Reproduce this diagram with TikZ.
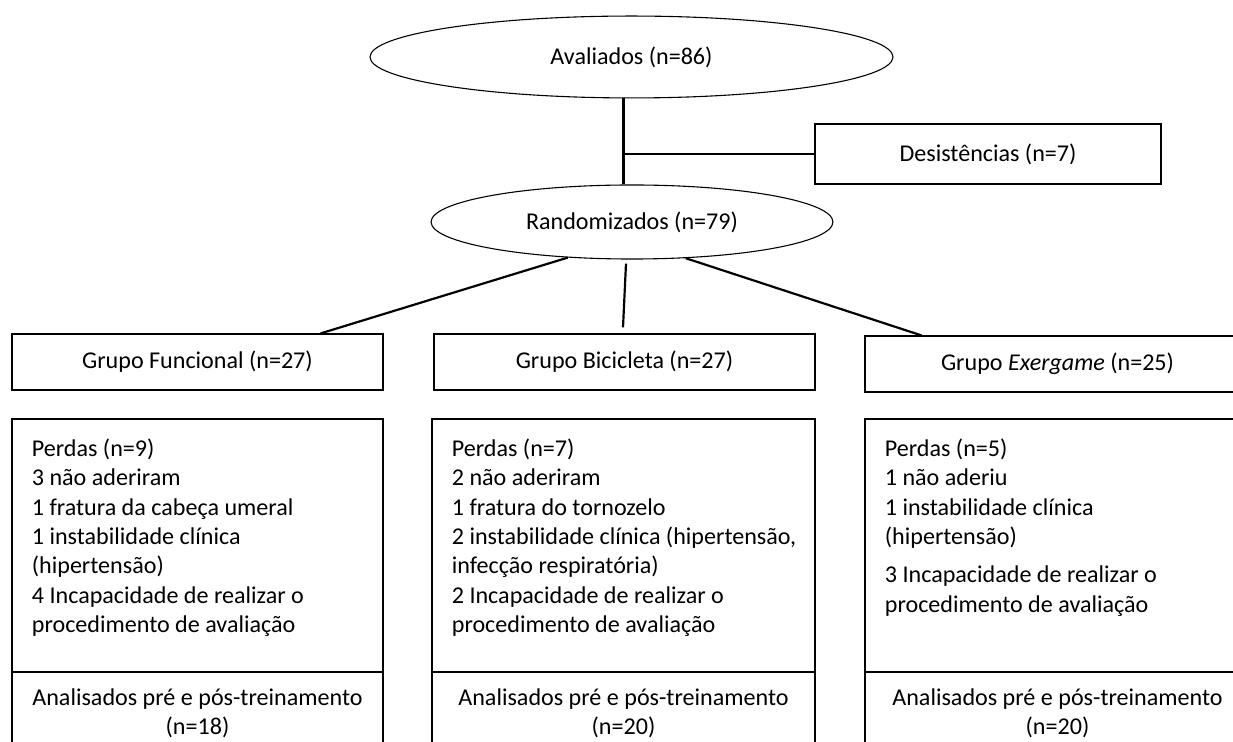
\documentclass[tikz,border=0pt]{standalone}
\usepackage{fontspec}
\setmainfont{Carlito}
\usetikzlibrary{shapes.geometric}
\usetikzlibrary{positioning}

\tikzset{
  oval/.style={draw, ellipse, line width=0.5pt, inner sep=0pt},
  grpbox/.style={draw, rectangle, line width=0.5pt, minimum height=25.6pt, inner sep=0pt},
  lossbox/.style={draw, rectangle, line width=0.5pt, minimum height=115.5pt, inner sep=0pt},
  endbox/.style={draw, rectangle, line width=0.5pt, minimum height=37.9pt, inner sep=0pt, align=center},
  losstext/.style={anchor=north west, align=left, inner sep=0pt},
  link/.style={line width=1pt}
}

\begin{document}
\begin{tikzpicture}[x=0.4566pt, y=-0.4566pt, every node/.style={font=\fontsize{11pt}{13.4pt}\selectfont}]
\useasboundingbox (0,0) rectangle (1233,742);

% top part
\node[oval, minimum width=238.8pt, minimum height=37.4pt] (aval) at (631.5,57) {Avaliados (n=86)};
\node[oval, minimum width=183.5pt, minimum height=33.8pt] (rand) at (632,222) {Randomizados (n=79)};
\node[grpbox, minimum width=158pt, minimum height=27.4pt] (desist) at (988,154) {Desistências (n=7)};

% groups
\node[grpbox, minimum width=169.4pt] (func) at (197.5,362) {Grupo Funcional (n=27)};
\node[grpbox, minimum width=174pt] (bici) at (624.5,362) {Grupo Bicicleta (n=27)};
\node[grpbox, minimum width=175.8pt] (exer) at (1057.5,364) {Grupo \textit{Exergame} (n=25)};

% losses
\node[lossbox, minimum width=169.4pt] (lossF) at (197.5,545.5) {};
\node[lossbox, minimum width=174.9pt] (lossB) at (623.5,545.5) {};
\node[lossbox, minimum width=175.8pt] (lossE) at (1057.5,545.5) {};

\node[losstext] (txtF) at ([shift={(20,20)}]lossF.north west) {Perdas (n=9)\\3 não aderiram\\1 fratura da cabeça umeral\\1 instabilidade clínica\\(hipertensão)\\4 Incapacidade de realizar o\\procedimento de avaliação};
\node[losstext] (txtB) at ([shift={(20,20)}]lossB.north west) {Perdas (n=7)\\2 não aderiram\\1 fratura do tornozelo\\2 instabilidade clínica (hipertensão,\\infecção respiratória)\\2 Incapacidade de realizar o\\procedimento de avaliação};
\node[losstext] (txtE) at ([shift={(20,20)}]lossE.north west) {Perdas (n=5)\\1 não aderiu\\1 instabilidade clínica\\(hipertensão)\\[4.1pt]3 Incapacidade de realizar o\\procedimento de avaliação};

% analysed
\node[endbox, minimum width=169.4pt] (endF) at (197.5,713.5) {Analisados pré e pós-treinamento\\(n=18)};
\node[endbox, minimum width=174.9pt] (endB) at (623.5,713.5) {Analisados pré e pós-treinamento\\(n=20)};
\node[endbox, minimum width=175.8pt] (endE) at (1057.5,713.5) {Analisados pré e pós-treinamento\\(n=20)};

% connectors
\draw[link] ([shift={(-8,0)}]aval.south) coordinate (trunk) -- (trunk |- rand.north);
\draw[link] (trunk |- desist.west) -- (desist.west);
\draw[link] (rand.209) -- ([shift={(-63,0)}]func.north east);
\draw[link] ([shift={(-6,4)}]rand.south) -- ([shift={(-1.5,-6)}]bici.north);
\draw[link] (rand.-34) -- ([shift={(57,0)}]exer.north west);

\end{tikzpicture}
\end{document}
